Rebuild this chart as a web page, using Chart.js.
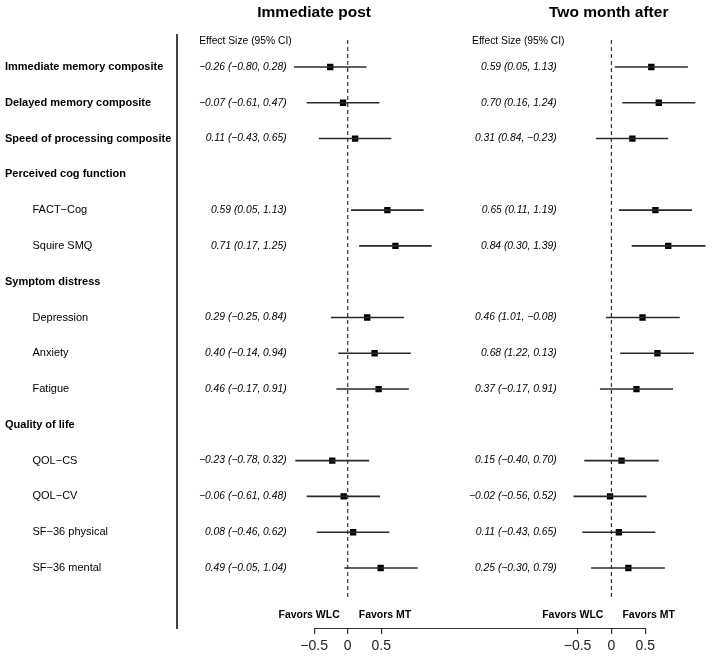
<!DOCTYPE html>
<html>
<head>
<meta charset="utf-8">
<script src="https://cdn.jsdelivr.net/npm/chart.js@4.4.1/dist/chart.umd.min.js"></script>
<style>
  body { margin: 0; background: #fff; }
  #wrap { width: 712px; height: 657px; }
</style>
</head>
<body>
<div id="wrap"><canvas id="forest"></canvas></div>
<script>
// rows of the table, top to bottom
const rowLabels = [
  'Immediate memory composite',
  'Delayed memory composite',
  'Speed of processing composite',
  'Perceived cog function',
  'FACT−Cog',
  'Squire SMQ',
  'Symptom distress',
  'Depression',
  'Anxiety',
  'Fatigue',
  'Quality of life',
  'QOL−CS',
  'QOL−CV',
  'SF−36 physical',
  'SF−36 mental'
];
const boldRows = [0, 1, 2, 3, 6, 10];
const indentRows = [4, 5, 7, 8, 9, 11, 12, 13, 14];

const panelTitles = ['Immediate post', 'Two month after'];

// Immediate post
const est1 = [-0.26, -0.07, 0.11, null, 0.59, 0.71, null, 0.29, 0.40, 0.46, null, -0.23, -0.06, 0.08, 0.49];
const lo1  = [-0.80, -0.61, -0.43, null, 0.05, 0.17, null, -0.25, -0.14, -0.17, null, -0.78, -0.61, -0.46, -0.05];
const hi1  = [0.28, 0.47, 0.65, null, 1.13, 1.25, null, 0.84, 0.94, 0.91, null, 0.32, 0.48, 0.62, 1.04];

// Two month after (CI order kept as printed)
const est2 = [0.59, 0.70, 0.31, null, 0.65, 0.84, null, 0.46, 0.68, 0.37, null, 0.15, -0.02, 0.11, 0.25];
const lo2  = [0.05, 0.16, 0.84, null, 0.11, 0.30, null, 1.01, 1.22, -0.17, null, -0.40, -0.56, -0.43, -0.30];
const hi2  = [1.13, 1.24, -0.23, null, 1.19, 1.39, null, -0.08, 0.13, 0.91, null, 0.70, 0.52, 0.65, 0.79];

const xTicks = [-0.5, 0, 0.5];

const FONT = "'Liberation Sans', Arial, Helvetica, sans-serif";
Chart.defaults.font.family = FONT;
Chart.defaults.color = '#000';

function fmt(v) {
  const s = Math.abs(v).toFixed(2);
  return v < 0 ? '−' + s : s;
}
function ciText(e, l, h) {
  return fmt(e) + ' (' + fmt(l) + ', ' + fmt(h) + ')';
}

function ciBars(est, lo, hi) {
  const out = [];
  est.forEach((e, i) => { if (e !== null) out.push({ y: i, x: [lo[i], hi[i]] }); });
  return out;
}
function points(est) {
  const out = [];
  est.forEach((e, i) => { if (e !== null) out.push({ x: e, y: i }); });
  return out;
}

const ciStyle = {
  type: 'bar', indexAxis: 'y', grouped: false, maxBarThickness: 1.6,
  backgroundColor: '#2a2a2a', borderWidth: 0, yAxisID: 'y'
};
const ptStyle = {
  type: 'scatter', pointStyle: 'rect', pointRadius: 4.5, pointHoverRadius: 4.5,
  backgroundColor: '#000', borderWidth: 0, yAxisID: 'y'
};

// text columns, titles, reference lines and the shared axis line
const forestText = {
  id: 'forestText',
  beforeDatasetsDraw(chart) {
    const { ctx, chartArea, scales } = chart;
    ctx.save();
    ctx.strokeStyle = '#333';
    ctx.lineWidth = 1.2;
    ctx.setLineDash([4, 3]);
    ['x1', 'x2'].forEach(id => {
      const x = scales[id].getPixelForValue(0);
      ctx.beginPath();
      ctx.moveTo(x, chartArea.top + 5);
      ctx.lineTo(x, chartArea.bottom - 28);
      ctx.stroke();
    });
    ctx.restore();
  },
  afterDraw(chart) {
    const { ctx, chartArea, scales } = chart;
    const y = scales.y;
    const panels = [
      { sc: scales.x1, est: est1, lo: lo1, hi: hi1, titleAt: -0.5, headAt: -2.21, textAt: -0.91 },
      { sc: scales.x2, est: est2, lo: lo2, hi: hi2, titleAt: -0.04, headAt: -2.06, textAt: -0.81 }
    ];
    ctx.save();
    ctx.fillStyle = '#000';
    ctx.textBaseline = 'middle';
    panels.forEach((p, k) => {
      ctx.font = 'bold 15.5px ' + FONT;
      ctx.textAlign = 'center';
      ctx.fillText(panelTitles[k], p.sc.getPixelForValue(p.titleAt), 13);

      ctx.font = '10.3px ' + FONT;
      ctx.textAlign = 'left';
      ctx.fillText('Effect Size (95% CI)', p.sc.getPixelForValue(p.headAt), chartArea.top + 6);

      ctx.font = 'italic 10.3px ' + FONT;
      ctx.textAlign = 'right';
      p.est.forEach((e, i) => {
        if (e === null) return;
        ctx.fillText(ciText(e, p.lo[i], p.hi[i]), p.sc.getPixelForValue(p.textAt), y.getPixelForValue(i));
      });

      const zero = p.sc.getPixelForValue(0);
      ctx.font = 'bold 10.5px ' + FONT;
      ctx.textAlign = 'right';
      ctx.fillText('Favors WLC', zero - 8, chartArea.bottom - 13);
      ctx.textAlign = 'left';
      ctx.fillText('Favors MT', zero + 11, chartArea.bottom - 13);
    });

    // one axis line running from the left panel's -0.5 to the right panel's 0.5
    ctx.strokeStyle = '#333';
    ctx.lineWidth = 1.2;
    ctx.beginPath();
    ctx.moveTo(scales.x1.getPixelForValue(-0.5), chartArea.bottom + 0.5);
    ctx.lineTo(scales.x2.getPixelForValue(0.5), chartArea.bottom + 0.5);
    ctx.stroke();
    ctx.restore();
  }
};

function xAxis(min, max) {
  return {
    type: 'linear', position: 'bottom', stack: 'bottom', stackWeight: 1,
    min, max, offset: false,
    afterBuildTicks: s => { s.ticks = xTicks.map(v => ({ value: v })); },
    afterFit: s => { s.height = 29; },
    border: { display: false },
    grid: { display: true, offset: false, drawOnChartArea: false, drawTicks: true, tickLength: 6, color: '#333', lineWidth: 1.2 },
    ticks: {
      autoSkip: false, maxRotation: 0, minRotation: 0, padding: 4, color: '#222',
      font: { size: 14 },
      callback: v => (v < 0 ? '−' : '') + Math.abs(v)
    }
  };
}

function rowFont(ctx) {
  const i = ctx && ctx.tick ? ctx.tick.value : -1;
  return { size: 11, weight: boldRows.includes(i) ? 'bold' : 'normal' };
}

new Chart(document.getElementById('forest'), {
  type: 'bar',
  data: {
    datasets: [
      Object.assign({ data: ciBars(est1, lo1, hi1), xAxisID: 'x1' }, ciStyle),
      Object.assign({ data: ciBars(est2, lo2, hi2), xAxisID: 'x2' }, ciStyle),
      Object.assign({ data: points(est1), xAxisID: 'x1' }, ptStyle),
      Object.assign({ data: points(est2), xAxisID: 'x2' }, ptStyle)
    ]
  },
  options: {
    responsive: true,
    maintainAspectRatio: false,
    animation: false,
    events: [],
    layout: { padding: { left: 5, right: 2, top: 35, bottom: 0 } },
    plugins: { legend: { display: false }, tooltip: { enabled: false } },
    scales: {
      x1: xAxis(-2.541, 1.407),
      x2: xAxis(-2.50, 1.42),
      y: {
        type: 'linear', position: 'left', reverse: true, offset: false,
        min: -0.894, max: 15.677,
        afterBuildTicks: s => { s.ticks = rowLabels.map((_, i) => ({ value: i })); },
        afterFit: s => { s.width = 172; },
        grid: { display: false },
        border: { display: true, color: '#444', width: 2 },
        ticks: {
          autoSkip: false, crossAlign: 'far', color: '#000',
          font: rowFont,
          callback: v => (indentRows.includes(v) ? '         ' : '') + rowLabels[v]
        }
      }
    }
  },
  plugins: [forestText]
});
</script>
</body>
</html>
